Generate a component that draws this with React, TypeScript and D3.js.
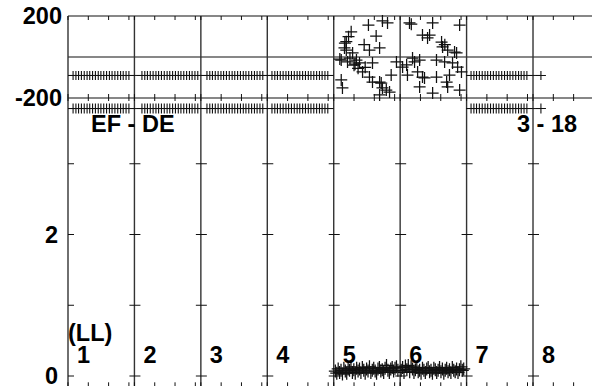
import React from "react";
import * as d3 from "d3";

// ---- data ----
const columnLabels = ["1", "2", "3", "4", "5", "6", "7", "8"];
const colSpan = 3.272; // time units spanned by one column
const timeTicks = [0, 1, 2, 3];
const phaseTickLabels = [200, -200];
const ampTickValues = [0, 1, 2, 3];
const ampTickLabels = [2, 0];

// blanked (flagged) samples: shown at fixed off-scale levels
const flaggedCols = [0, 1, 2, 3, 6];
const flagColShift = [0, 0.12, 0.05, -0.02, -0.03];
const flagTimes = [0.25, 0.39, 0.52, 0.66, 0.8, 0.94, 1.07, 1.21, 1.35, 1.49, 1.62, 1.76, 1.9, 2.04, 2.17, 2.31, 2.45, 2.59, 2.72, 2.86, 3.0];
const flagExtra = [[7, 0.39]];
const flagPhase = -90;
const flagAmp = 3.78;

// phase scatter (column-local time, degrees)
const col5Phase = [
  [0.3, -10], [0.37, -112], [0.43, -151], [0.37, -15], [0.53, 44], [0.55, 68], [0.62, 75], [0.62, 34],
  [0.73, 99], [0.86, 123], [0.93, 20], [0.68, -24], [1.12, -15], [1.27, -29], [1.42, -73], [1.55, -50],
  [1.71, 156], [1.76, 34], [1.76, -98], [1.91, -29], [1.91, -122], [2.09, 102], [2.26, 44], [2.26, -122],
  [2.34, -127], [2.4, -151], [2.26, -185], [2.59, -161], [2.65, 166], [2.75, -171], [2.83, -88], [3.09, -24],
  [1.0, -40], [1.2, -55], [2.4, 176], [1.5, 60], [0.8, -5], [1.05, -35],
];
const col6Phase = [
  [0.46, 166], [1.6, 166], [2.93, 156], [1.1, 107], [1.35, 93], [2.04, 73], [2.09, 49], [2.68, 24],
  [0.61, -5], [0.71, -24], [0.32, -39], [0.96, -15], [1.79, -15], [2.19, -24], [2.58, -29], [2.83, -49],
  [0.86, -73], [1.2, -102], [1.79, -98], [2.43, -88], [2.34, -146], [0.96, -146], [1.6, -176], [2.93, -161],
  [0.36, -88], [0.12, -49], [1.45, 107], [2.34, 34], [2.78, 20], [1.1, -98], [2.29, -122], [3.02, -73],
  [0.55, 160], [2.2, 60],
];

// amplitude scatter (column-local time, Jy)
const col5Amp = [
  [0.08, 0.07], [0.15, 0.04], [0.22, 0.1], [0.29, 0.05], [0.36, 0.08], [0.43, 0.03], [0.5, 0.11], [0.57, 0.07],
  [0.64, 0.04], [0.71, 0.1], [0.78, 0.08], [0.85, 0.13], [0.92, 0.05], [0.99, 0.09], [1.06, 0.04], [1.13, 0.11],
  [1.2, 0.07], [1.27, 0.1], [1.34, 0.05], [1.41, 0.12], [1.48, 0.08], [1.55, 0.04], [1.62, 0.1], [1.69, 0.07],
  [1.76, 0.13], [1.83, 0.05], [1.9, 0.08], [1.97, 0.11], [2.04, 0.07], [2.11, 0.04], [2.18, 0.1], [2.25, 0.12],
  [2.32, 0.07], [2.39, 0.09], [2.46, 0.05], [2.53, 0.11], [2.6, 0.15], [2.67, 0.08], [2.74, 0.05], [2.81, 0.1],
  [2.88, 0.12], [2.95, 0.07], [3.02, 0.11], [3.09, 0.13], [3.16, 0.08],
];
const col6Amp = [
  [0.05, 0.08], [0.12, 0.12], [0.19, 0.05], [0.26, 0.14], [0.33, 0.09], [0.4, 0.15], [0.47, 0.06], [0.54, 0.13],
  [0.61, 0.1], [0.68, 0.05], [0.75, 0.09], [0.82, 0.12], [0.89, 0.06], [0.96, 0.08], [1.03, 0.04], [1.1, 0.11],
  [1.17, 0.08], [1.24, 0.05], [1.31, 0.1], [1.38, 0.12], [1.45, 0.06], [1.52, 0.08], [1.59, 0.04], [1.66, 0.11],
  [1.73, 0.09], [1.8, 0.05], [1.87, 0.08], [1.94, 0.12], [2.01, 0.06], [2.08, 0.1], [2.15, 0.04], [2.22, 0.08],
  [2.29, 0.11], [2.36, 0.06], [2.43, 0.09], [2.5, 0.05], [2.57, 0.12], [2.64, 0.08], [2.71, 0.06], [2.78, 0.1],
  [2.85, 0.05], [2.92, 0.09], [2.99, 0.13], [3.06, 0.08], [3.13, 0.1],
];

const baselineLabel = "EF - DE";
const stokesLabel = "(LL)";
const pageLabel = "3 - 18";

// ---- layout ----
const W = 592;
const H = 386;
const FONT = "'Liberation Sans', Arial, Helvetica, sans-serif";

export default function App() {
  const nCols = columnLabels.length;
  const x = d3.scaleLinear().domain([0, nCols * colSpan]).range([68, 68 + nCols * 66.43]);
  const yP = d3.scaleLinear().domain([-200, 200]).range([98, 16]);
  const yA = d3.scaleLinear().domain([0, 2]).range([376, 234.5]);
  const x0 = x(0);
  const x1 = x(nCols * colSpan);
  const yBottom = yA(-0.16);

  const colStarts = d3.range(nCols).map((c) => c * colSpan);
  const ink = "#111";
  const grid = "#333";

  const plus = (cx: number, cy: number, rx: number, ry: number, key: string, sw = 1) => (
    <path key={key} d={`M${cx - rx},${cy}H${cx + rx}M${cx},${cy - ry}V${cy + ry}`} stroke={ink} strokeWidth={sw} fill="none" />
  );

  // flagged points
  const flagPts: number[] = [];
  flaggedCols.forEach((c, i) => flagTimes.forEach((t) => flagPts.push(c * colSpan + t + flagColShift[i])));
  flagExtra.forEach(([c, t]) => flagPts.push(c * colSpan + t));
  const segA = [0, 4 * colSpan];
  const segB = [6 * colSpan, flagExtra[0][0] * colSpan + flagExtra[0][1]];
  const line = d3.line<number>().x((d) => x(d));

  const elems: React.ReactNode[] = [];

  // horizontal frame lines
  [200, 0, -200].forEach((p) =>
    elems.push(<line key={`hp${p}`} x1={x0} x2={x1} y1={yP(p)} y2={yP(p)} stroke={ink} strokeWidth={1.1} />)
  );
  // vertical column lines
  colStarts.forEach((s, i) =>
    elems.push(<line key={`v${i}`} x1={x(s)} x2={x(s)} y1={yP(200)} y2={yBottom} stroke={grid} strokeWidth={1.4} />)
  );
  // time ticks
  colStarts.forEach((s, i) =>
    timeTicks.forEach((t) => {
      const xx = x(s + t);
      elems.push(<line key={`tt${i}-${t}`} x1={xx} x2={xx} y1={yP(200)} y2={yP(200) + 4} stroke={ink} strokeWidth={1} />);
      elems.push(<line key={`tm${i}-${t}`} x1={xx} x2={xx} y1={yP(-200) - 4} y2={yP(-200) + 3} stroke={ink} strokeWidth={1} />);
      elems.push(<line key={`tb${i}-${t}`} x1={xx} x2={xx} y1={yBottom - 5} y2={yBottom} stroke={ink} strokeWidth={1} />);
    })
  );
  // amplitude ticks at each column boundary
  colStarts.forEach((s, i) =>
    ampTickValues.forEach((v) => {
      const xx = x(s);
      elems.push(
        <line key={`at${i}-${v}`} x1={i === 0 ? xx : xx - 5} x2={xx + 6} y1={yA(v)} y2={yA(v)} stroke={ink} strokeWidth={1} />
      );
    })
  );

  // flagged rows: connecting lines
  [segA, segB].forEach((sg, i) => {
    const dP = line.y(() => yP(flagPhase))(sg) || "";
    elems.push(<path key={`fl${i}`} d={dP} stroke={ink} strokeWidth={1} fill="none" />);
    const dA = line.y(() => yA(flagAmp))(sg) || "";
    elems.push(<path key={`fa${i}`} d={dA} stroke={ink} strokeWidth={1} fill="none" />);
  });
  flagPts.forEach((t, i) => {
    elems.push(plus(x(t), yP(flagPhase), 5, 4.5, `fp${i}`, 1.1));
    elems.push(plus(x(t), yA(flagAmp), 5, 5, `fq${i}`, 1.1));
  });

  // scatter
  const scatter = (data: number[][], col: number, y: (v: number) => number, tag: string, r: number) =>
    data.forEach(([t, v], i) => elems.push(plus(x(col * colSpan + t), y(v), r, r, `${tag}${i}`, 1.25)));
  scatter(col5Phase, 4, yP, "p5", 6);
  scatter(col6Phase, 5, yP, "p6", 6);
  scatter(col5Amp, 4, yA, "a5", 6.5);
  scatter(col6Amp, 5, yA, "a6", 6.5);

  const txt = { fontFamily: FONT, fontWeight: 700, fontSize: 23.5, fill: "#000" } as const;

  return (
    <svg width={W} height={H} style={{ position: "absolute", left: 0, top: 0, background: "#fff" }}>
      <rect width={W} height={H} fill="#fff" />
      {elems}
      {phaseTickLabels.map((p) => (
        <text key={`pl${p}`} x={62} y={yP(p) + 8} textAnchor="end" {...txt}>
          {p}
        </text>
      ))}
      {ampTickLabels.map((v) => (
        <text key={`al${v}`} x={58} y={yA(v) + 8} textAnchor="end" {...txt}>
          {v}
        </text>
      ))}
      {columnLabels.map((l, i) => (
        <text key={`cl${i}`} x={x(colStarts[i]) + 9} y={363} {...txt}>
          {l}
        </text>
      ))}
      <text x={91} y={132} {...txt}>{baselineLabel}</text>
      <text x={517} y={132} {...txt}>{pageLabel}</text>
      <text x={68} y={341} {...txt}>{stokesLabel}</text>
    </svg>
  );
}
